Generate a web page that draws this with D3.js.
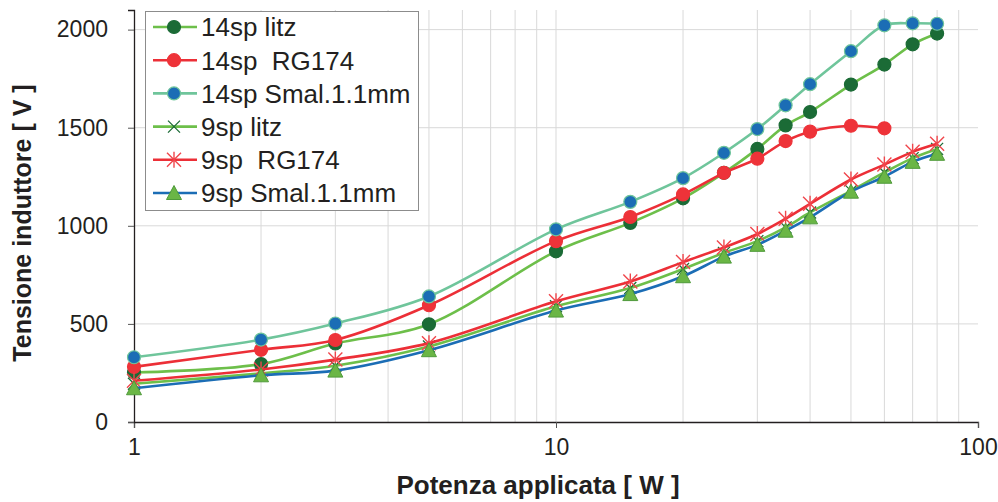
<!DOCTYPE html>
<html>
<head>
<meta charset="utf-8">
<script src="https://cdn.jsdelivr.net/npm/d3@7"></script>
<style>
  body { margin: 0; background: #fff; }
  text { font-family: "Liberation Sans", Arial, sans-serif; fill: #231f20; }
</style>
</head>
<body>
<div id="chart"></div>
<script>
// data
const power = [1, 2, 3, 5, 10, 15, 20, 25, 30, 35, 40, 50, 60, 70, 80];
const sp14Litz = [252, 295, 400, 498, 870, 1015, 1140, 1270, 1392, 1512, 1580, 1720, 1822, 1925, 1980];
const sp14RG = [281, 368, 418, 595, 922, 1045, 1160, 1270, 1342, 1432, 1480, 1510, 1497];
const sp14Smal = [330, 420, 502, 640, 982, 1122, 1243, 1372, 1493, 1614, 1722, 1890, 2022, 2032, 2030];
const sp9Litz = [195, 248, 287, 385, 590, 683, 780, 862, 922, 992, 1068, 1178, 1272, 1345, 1392];
const sp9RG = [210, 268, 318, 402, 615, 716, 815, 890, 958, 1036, 1112, 1236, 1312, 1377, 1418];
const sp9Smal = [172, 238, 262, 366, 568, 652, 743, 843, 903, 975, 1043, 1174, 1250, 1326, 1367];
const yTicks = [0, 500, 1000, 1500, 2000];
const xTicks = [1, 10, 100];
const seriesNames = ['14sp litz', '14sp  RG174', '14sp Smal.1.1mm', '9sp litz', '9sp  RG174', '9sp Smal.1.1mm'];

const series = [
  { name: seriesNames[0], values: sp14Litz, line: '#6dbf4a', marker: 'circle', fill: '#1b6b36', stroke: '#1b6b36' },
  { name: seriesNames[1], values: sp14RG, line: '#ec2f37', marker: 'circle', fill: '#ee3339', stroke: '#ee3339' },
  { name: seriesNames[2], values: sp14Smal, line: '#6fc59b', marker: 'circle', fill: '#1b6db5', stroke: '#6fc59b' },
  { name: seriesNames[3], values: sp9Litz, line: '#6dbf4a', marker: 'x', fill: 'none', stroke: '#1b6b36' },
  { name: seriesNames[4], values: sp9RG, line: '#ec2f37', marker: 'star', fill: 'none', stroke: '#f0464c' },
  { name: seriesNames[5], values: sp9Smal, line: '#1b6db5', marker: 'triangle', fill: '#6ab645', stroke: '#4f9a3a' },
];

const W = 998;
const H = 502;
const margin = { top: 10, right: 20, bottom: 80, left: 134 };

const svg = d3.select('#chart').append('svg')
  .attr('width', W)
  .attr('height', H);

const x = d3.scaleLog().domain([1, 100]).range([margin.left, W - margin.right]);
const y = d3.scaleLinear().domain([0, 2100]).range([H - margin.bottom, margin.top]);

// grid
const minor = [];
[1, 10].forEach((d) => { for (let k = 2; k <= 9; k += 1) minor.push(d * k); });
svg.append('g').selectAll('line.vg')
  .data(minor.concat([10]))
  .join('line')
  .attr('x1', (d) => x(d)).attr('x2', (d) => x(d))
  .attr('y1', margin.top).attr('y2', y(0))
  .attr('stroke', '#d9d9d9').attr('stroke-width', 1);
svg.append('g').selectAll('line.hg')
  .data(yTicks.slice(1))
  .join('line')
  .attr('x1', margin.left).attr('x2', W - margin.right)
  .attr('y1', (d) => y(d)).attr('y2', (d) => y(d))
  .attr('stroke', '#d9d9d9').attr('stroke-width', 1);

// axes
const xAxis = svg.append('g')
  .attr('transform', `translate(0, ${y(0)})`)
  .call(d3.axisBottom(x).tickValues(xTicks).tickFormat(d3.format('d')).tickSize(6).tickPadding(11));
const yAxis = svg.append('g')
  .attr('transform', `translate(${margin.left}, 0)`)
  .call(d3.axisLeft(y).tickValues(yTicks).tickFormat(d3.format('d')).tickSize(6).tickPadding(20));
[xAxis, yAxis].forEach((g) => {
  g.select('.domain').attr('stroke', '#231f20').attr('stroke-width', 1.3);
  g.selectAll('.tick line').attr('stroke', '#555').attr('stroke-width', 1);
  g.selectAll('.tick text').attr('font-size', 23).attr('fill', '#231f20')
    .attr('font-family', '"Liberation Sans", Arial, sans-serif');
});

// lines
const line = d3.line()
  .x((d) => x(d[0]))
  .y((d) => y(d[1]))
  .curve(d3.curveCatmullRom.alpha(0.5));

const drawMarker = (g, type, s) => {
  if (type === 'circle') {
    g.append('circle').attr('r', 6.5).attr('fill', s.fill).attr('stroke', s.stroke).attr('stroke-width', 1.2);
  } else if (type === 'x') {
    g.append('path').attr('d', 'M-6,-6L6,6M-6,6L6,-6').attr('stroke', s.stroke).attr('stroke-width', 1.3).attr('fill', 'none');
  } else if (type === 'star') {
    g.append('path').attr('d', 'M-7,-7L7,7M-7,7L7,-7M0,-8L0,8').attr('stroke', s.stroke).attr('stroke-width', 1.4).attr('fill', 'none');
  } else {
    g.append('path').attr('d', 'M0,-7.5L7.5,6.5L-7.5,6.5Z').attr('fill', s.fill).attr('stroke', s.stroke).attr('stroke-width', 1);
  }
};

series.forEach((s) => {
  const pts = s.values.map((v, i) => [power[i], v]);
  svg.append('path')
    .datum(pts)
    .attr('fill', 'none')
    .attr('stroke', s.line)
    .attr('stroke-width', 2.6)
    .attr('d', line);
  const mg = svg.append('g');
  pts.forEach((p) => {
    const g = mg.append('g').attr('transform', `translate(${x(p[0])}, ${y(p[1])})`);
    drawMarker(g, s.marker, s);
  });
});

// legend
const legend = svg.append('g');
legend.append('rect')
  .attr('x', 145.5).attr('y', 11.5).attr('width', 273).attr('height', 199)
  .attr('fill', '#fff').attr('stroke', '#8c8c8c').attr('stroke-width', 1);
series.forEach((s, i) => {
  const cy = 27 + i * 33.2;
  const g = legend.append('g');
  g.append('line').attr('x1', 153).attr('x2', 197).attr('y1', cy).attr('y2', cy)
    .attr('stroke', s.line).attr('stroke-width', 2.6);
  drawMarker(g.append('g').attr('transform', `translate(174, ${cy})`), s.marker, s);
  g.append('text').attr('x', 201).attr('y', cy).attr('dy', '0.36em')
    .attr('font-size', 26).style('white-space', 'pre').text(s.name);
});

// axis titles
svg.append('text')
  .attr('x', 538).attr('y', 485).attr('dy', '0.36em')
  .attr('text-anchor', 'middle').attr('font-size', 26).attr('font-weight', 'bold')
  .text('Potenza applicata [ W ]');
svg.append('text')
  .attr('transform', 'translate(22, 223) rotate(-90)')
  .attr('dy', '0.36em')
  .attr('text-anchor', 'middle').attr('font-size', 25).attr('font-weight', 'bold')
  .text('Tensione induttore [ V ]');
</script>
</body>
</html>
